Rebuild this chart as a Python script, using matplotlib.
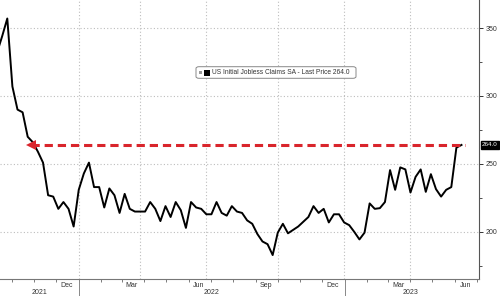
import numpy as np
import pandas as pd
import matplotlib
matplotlib.use("Agg")
import matplotlib.pyplot as plt
import matplotlib.dates as mdates
import matplotlib.transforms as mtransforms
from matplotlib.patches import FancyBboxPatch, Rectangle

# weekly US initial jobless claims (thousands), week ending Saturdays
first_week = "2021-09-11"
claims = [
    332,
    344, 357, 307, 290, 288, 270, 266, 259, 251, 227,
    226, 217, 222, 217, 204, 231, 243, 251, 233, 233,
    218, 232, 227, 214, 228, 217, 215, 215, 215, 222,
    217, 208, 219, 211, 222, 216, 203, 222, 218, 217,
    213, 213, 222, 214, 212, 219, 215, 214, 208.5, 206,
    198.5, 193, 191, 183, 199.5, 206, 199, 201.5, 204, 207.5,
    211, 219, 214, 217, 207, 213, 213, 207, 205, 200,
    194.5, 199.5, 221, 217, 217.5, 222, 245.5, 231, 247.5, 246,
    229, 240.5, 246, 229.5, 242.5, 231.5, 226, 231, 233, 262,
    264,
]
last_price = 264.0
series_name = "US Initial Jobless Claims SA - Last Price"

y_ticks = [200, 250, 300, 350]
month_labels = ["Dec", "Mar", "Jun", "Sep", "Dec", "Mar", "Jun"]
month_label_dates = ["2021-12-15", "2022-03-15", "2022-06-15", "2022-09-15",
                     "2022-12-15", "2023-03-15", "2023-06-15"]
year_labels = ["2021", "2022", "2023"]
year_label_dates = ["2021-11-08", "2022-07-02", "2023-04-01"]
year_breaks = ["2022-01-01", "2023-01-01"]
grid_dates = ["2022-01-01", "2022-03-26", "2022-06-25", "2022-10-01",
              "2022-12-31", "2023-04-01"]
arrow_from = "2023-06-15"
arrow_to = "2021-10-27"

dates = pd.date_range(first_week, periods=len(claims), freq="7D")

red = "#d9252c"
grid_col = "#bdbdbd"
txt_col = "#333333"

fig = plt.figure(figsize=(5, 2.96), dpi=100)
ax = fig.add_axes([0, 17 / 296, 479 / 500, 279 / 296])

ax.plot(dates, claims, color="black", lw=1.4, zorder=3)

# dashed red "last price" line with arrow head
ax.plot(pd.to_datetime([arrow_to, arrow_from]), [last_price, last_price],
        color=red, lw=2.2, linestyle=(0, (2.7, 1.6)), zorder=4, solid_capstyle="butt")
ax.plot(pd.to_datetime([arrow_to]), [last_price], marker="<", markersize=7,
        color=red, markeredgewidth=0, zorder=5)

ax.set_xlim(pd.Timestamp("2021-09-15"), pd.Timestamp("2023-07-04"))
ax.set_ylim(165.4, 370.6)

# grid
for y in y_ticks:
    ax.axhline(y, color=grid_col, lw=0.8, linestyle=(0, (1, 2)), zorder=1)
for d in grid_dates:
    ax.axvline(pd.Timestamp(d), color=grid_col, lw=0.8, linestyle=(0, (1, 2)), zorder=1)

# right axis
ax.yaxis.tick_right()
ax.set_yticks(y_ticks)
ax.set_yticks(np.arange(175, 375, 50), minor=True)
ax.tick_params(axis="y", which="major", length=3, width=0.7, colors=txt_col,
               labelsize=5, pad=2)
ax.tick_params(axis="y", which="minor", length=2, width=0.6, color=txt_col)
for lab in ax.get_yticklabels():
    lab.set_family("Liberation Sans")

# bottom axis: monthly minor ticks, labels at mid-month
ax.xaxis.set_minor_locator(mdates.MonthLocator())
ax.set_xticks(pd.to_datetime(month_label_dates))
ax.set_xticklabels(month_labels, family="Liberation Sans")
ax.tick_params(axis="x", which="major", length=0, labelsize=5, colors=txt_col, pad=2)
ax.tick_params(axis="x", which="minor", length=2.5, width=0.6, color="#666666")

trans = mtransforms.blended_transform_factory(ax.transData, ax.transAxes)
for lab, d in zip(year_labels, year_label_dates):
    ax.text(pd.Timestamp(d), -0.049, lab, transform=trans, ha="center", va="center",
            fontsize=5, color=txt_col, family="Liberation Sans")
for d in year_breaks:
    ax.plot([pd.Timestamp(d)] * 2, [0, -0.07], transform=trans, color="#888888",
            lw=0.7, clip_on=False)

for side in ["left", "top"]:
    ax.spines[side].set_visible(False)
ax.spines["right"].set_color("#555555")
ax.spines["bottom"].set_color("#777777")
ax.spines["right"].set_linewidth(0.8)
ax.spines["bottom"].set_linewidth(0.8)

# last price tag on the axis
ax.text(1.006, last_price, f"{last_price:.1f}", transform=mtransforms.blended_transform_factory(
        ax.transAxes, ax.transData), ha="left", va="center", fontsize=4.5, color="white",
        family="Liberation Sans", clip_on=False,
        bbox=dict(boxstyle="square,pad=0.2", fc="black", ec="black"))

# legend box
fig.patches.append(FancyBboxPatch((196 / 500, 1 - 78.3 / 296), 160 / 500, 11.6 / 296,
                                  boxstyle="round,pad=0,rounding_size=0.006",
                                  transform=fig.transFigure, fc="white", ec="#888888", lw=0.7))
fig.patches.append(Rectangle((199 / 500, 1 - 74 / 296), 3 / 500, 3 / 296,
                             transform=fig.transFigure, fc="#999999", ec="none"))
fig.patches.append(Rectangle((203.5 / 500, 1 - 75.5 / 296), 6 / 500, 6 / 296,
                             transform=fig.transFigure, fc="black", ec="none"))
fig.text(211.5 / 500, 1 - 72.5 / 296, f"{series_name} {last_price:.1f}",
         ha="left", va="center", fontsize=4.8, color=txt_col, family="Liberation Sans")

fig.savefig("out.png", dpi=100)
